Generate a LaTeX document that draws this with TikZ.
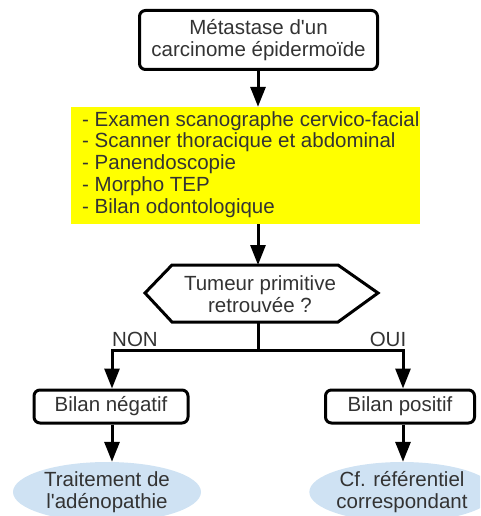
\documentclass[tikz,border=0pt]{standalone}
\usepackage{fontspec}
\setmainfont{Liberation Sans}
\usetikzlibrary{arrows.meta,shapes.geometric}
\definecolor{txt}{HTML}{333333}
\definecolor{ylw}{HTML}{FFFF00}
\definecolor{lblue}{HTML}{CFE2F3}
\tikzset{
  every node/.style={text=txt,font=\fontsize{20.5}{21.75}\selectfont},
  rbox/.style={draw=black,line width=3pt,rounded corners=6pt,fill=white,align=center,inner sep=0pt},
  conn/.style={line width=3pt,draw=black},
  arr/.style={conn,-{Triangle[width=15pt,length=20pt]}},
  ell/.style={ellipse,fill=lblue,align=center,inner sep=0pt},
}
\begin{document}
\begin{tikzpicture}[x=1pt,y=-1pt]
\useasboundingbox (0,0) rectangle (480,516);
\clip (0,0) rectangle (480,516);
% top box
\node[rbox,minimum width=238pt,minimum height=59pt] (top) at (258.5,40) {Métastase d\textquotesingle un\\carcinome épidermoïde};
% yellow box
\node[fill=ylw,minimum width=349pt,minimum height=117pt,inner sep=0pt] (ybox) at (245.5,165.5) {};
\node[anchor=north west,align=left,inner sep=0pt] (ytext) at (82,111) {- Examen scanographe cervico-facial\\- Scanner thoracique et abdominal\\- Panendoscopie\\- Morpho TEP\\- Bilan odontologique};
% hexagon
\coordinate (hl) at (145,293);
\coordinate (htl) at (172,265);
\coordinate (htr) at (338,265);
\coordinate (hr) at (378,293);
\coordinate (hbr) at (338,322);
\coordinate (hbl) at (172,322);
\draw[conn,fill=white,line join=miter] (hl) -- (htl) -- (htr) -- (hr) -- (hbr) -- (hbl) -- cycle;
\node[align=center] (hex) at (260,294) {Tumeur primitive\\retrouvée ?};
\coordinate (htop) at (258,265);
\coordinate (hbot) at (258,322);
% branch
\coordinate (jn) at (258,350);
\coordinate (jl) at (112,350);
\coordinate (jr) at (403,350);
\node[anchor=base] (non) at (135,346) {NON};
\node[anchor=base] (oui) at (388,346) {OUI};
% bilan boxes
\node[rbox,minimum width=154pt,minimum height=33pt] (neg) at (111,406.5) {Bilan négatif};
\node[rbox,minimum width=149pt,minimum height=33pt] (pos) at (400,406.5) {Bilan positif};
% ellipses
\node[ell,minimum width=188pt,minimum height=60pt] (tl) at (107,492) {Traitement de\\l\textquotesingle adénopathie};
\node[ell,minimum width=180pt,minimum height=60pt] (tr) at (402,492) {Cf. référentiel\\correspondant};
% connectors
\draw[arr] (top.south -| htop) -- (ybox.north -| htop);
\draw[arr] (ybox.south -| htop) -- (htop);
\draw[conn] (hbot) -- (jn);
\draw[conn,line cap=rect] (jl) -- (jr);
\draw[arr] (jl) -- (neg.north -| jl);
\draw[arr] (jr) -- (pos.north -| jr);
\draw[arr] (neg.south -| jl) -- (tl.north -| jl);
\draw[arr] (pos.south -| jr) -- (tr.north -| jr);
\end{tikzpicture}
\end{document}
